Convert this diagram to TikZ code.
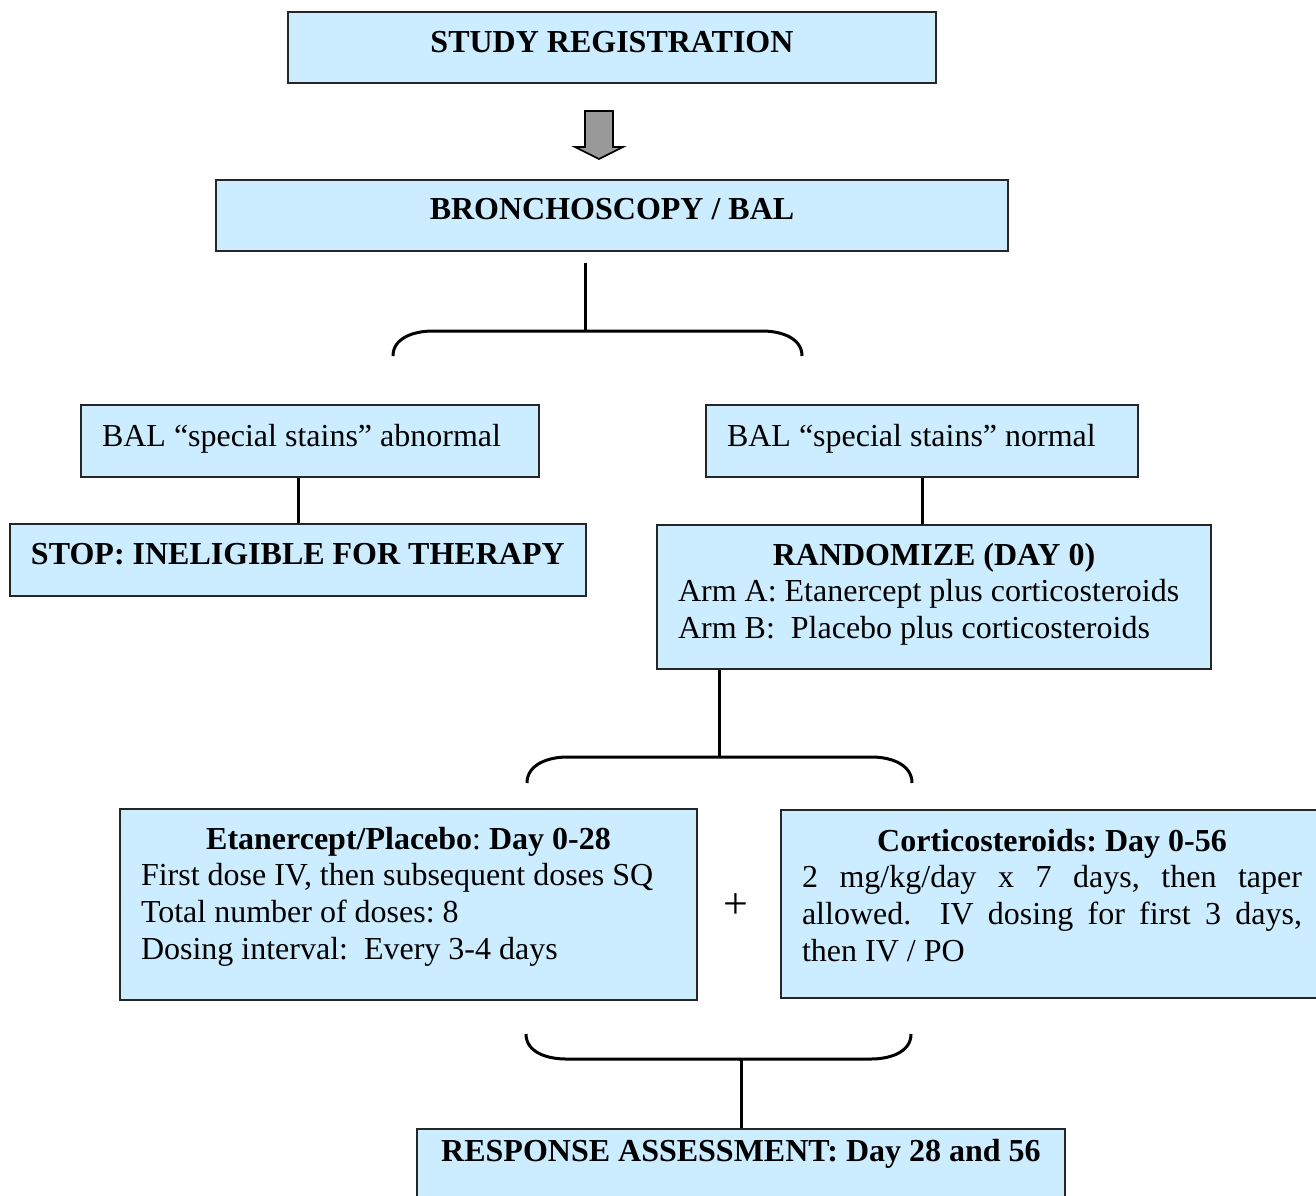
\documentclass[tikz,border=0pt]{standalone}
\usepackage{fontspec}
\setmainfont{Liberation Serif}
\usepackage{xcolor}
\definecolor{boxblue}{HTML}{CCECFF}
\definecolor{arrowgray}{HTML}{999999}

\begin{document}
\frenchspacing
\begin{tikzpicture}[x=0.5pt,y=-0.5pt,
    box/.style={draw=black!85,line width=1pt,fill=boxblue,anchor=north west,
      inner xsep=10.5pt,inner ysep=0pt,font=\fontsize{16pt}{18.4pt}\selectfont,
      execute at begin node={\spaceskip=\fontdimen2\font\xspaceskip=\spaceskip}},
    link/.style={line width=1.5pt},
    brace/.style={line width=1.5pt}]
    \useasboundingbox (0,0) rectangle (1316,1195);
    %
    \node[box,align=center,text width=303pt,text height=20pt,text depth=15.5pt]
      (reg) at (287,11) {\bfseries STUDY REGISTRATION};
    \draw[fill=arrowgray,line width=0.8pt] (585,111) -- (613,111) -- (613,147)
      -- (623,147) -- (599,159) -- (575,147) -- (585,147) -- cycle;
    \node[box,align=center,text width=375pt,text height=19.5pt,text depth=16pt]
      (bronch) at (215,179) {\bfseries BRONCHOSCOPY / BAL};
    %
    \coordinate (split1) at (585,331);
    \draw[link] ([yshift=-5.5pt]bronch.south -| split1) -- (split1);
    \draw[brace] (393,356) to[out=90,in=180] (433,331) -- (762,331)
      to[out=0,in=90] (802,356);
    %
    \node[box,text width=208pt,text height=20.5pt,text depth=15.5pt]
      (abn) at (80,404) {BAL “special stains” abnormal};
    \node[box,text width=195pt,text height=20.5pt,text depth=15.5pt]
      (norm) at (705,404) {BAL “special stains” normal};
    \node[box,text width=267pt,text height=20pt,text depth=16pt]
      (stop) at (9,523) {\mbox{\bfseries STOP: INELIGIBLE FOR THERAPY}};
    \node[box,text width=256pt,text height=20pt,text depth=52pt]
      (rand) at (656,524) {{\centering\bfseries RANDOMIZE (DAY 0)\par}
      Arm A: Etanercept plus corticosteroids\\
      Arm B:\ \ Placebo plus corticosteroids};
    \draw[link] (stop.north) -- (stop.north |- abn.south);
    \draw[link] (norm.south) -- (norm.south |- rand.north);
    %
    \coordinate (split2) at (719,757);
    \draw[link] (split2 |- rand.south) -- (split2);
    \draw[brace] (527,783) to[out=90,in=180] (567,757) -- (872,757)
      to[out=0,in=90] (912,783);
    %
    \node[box,text width=267.5pt,text height=20pt,text depth=75.5pt]
      (etan) at (119,808) {{\centering\textbf{Etanercept/Placebo}: \textbf{Day 0-28}\par}
      First dose IV, then subsequent doses SQ\\
      Total number of doses: 8\\
      Dosing interval:\ \ Every 3-4 days};
    \node[font=\fontsize{22pt}{24pt}\selectfont] (plus) at (736,906) {+};
    \node[box,align=justify,text width=250pt,text height=20.5pt,text depth=73.5pt,
      execute at begin node={\spaceskip=0pt}]
      (cort) at (780,809) {{\centering\bfseries Corticosteroids: Day 0-56\par}
      2 mg/kg/day x 7 days, then taper\linebreak
      allowed.\ \ IV dosing for first 3 days,\linebreak
      then IV / PO};
    %
    \coordinate (join) at (739,1059);
    \draw[brace] (526,1034) to[out=-90,in=180] (566,1059) -- (871,1059)
      to[out=0,in=-90] (911,1034);
    \node[box,align=center,text width=303pt,text height=16pt,text depth=25pt]
      (resp) at (416,1128) {\mbox{\bfseries RESPONSE ASSESSMENT: Day 28 and 56}};
    \draw[link] (join) -- (join -| resp.north) -- (resp.north);
\end{tikzpicture}
\end{document}
